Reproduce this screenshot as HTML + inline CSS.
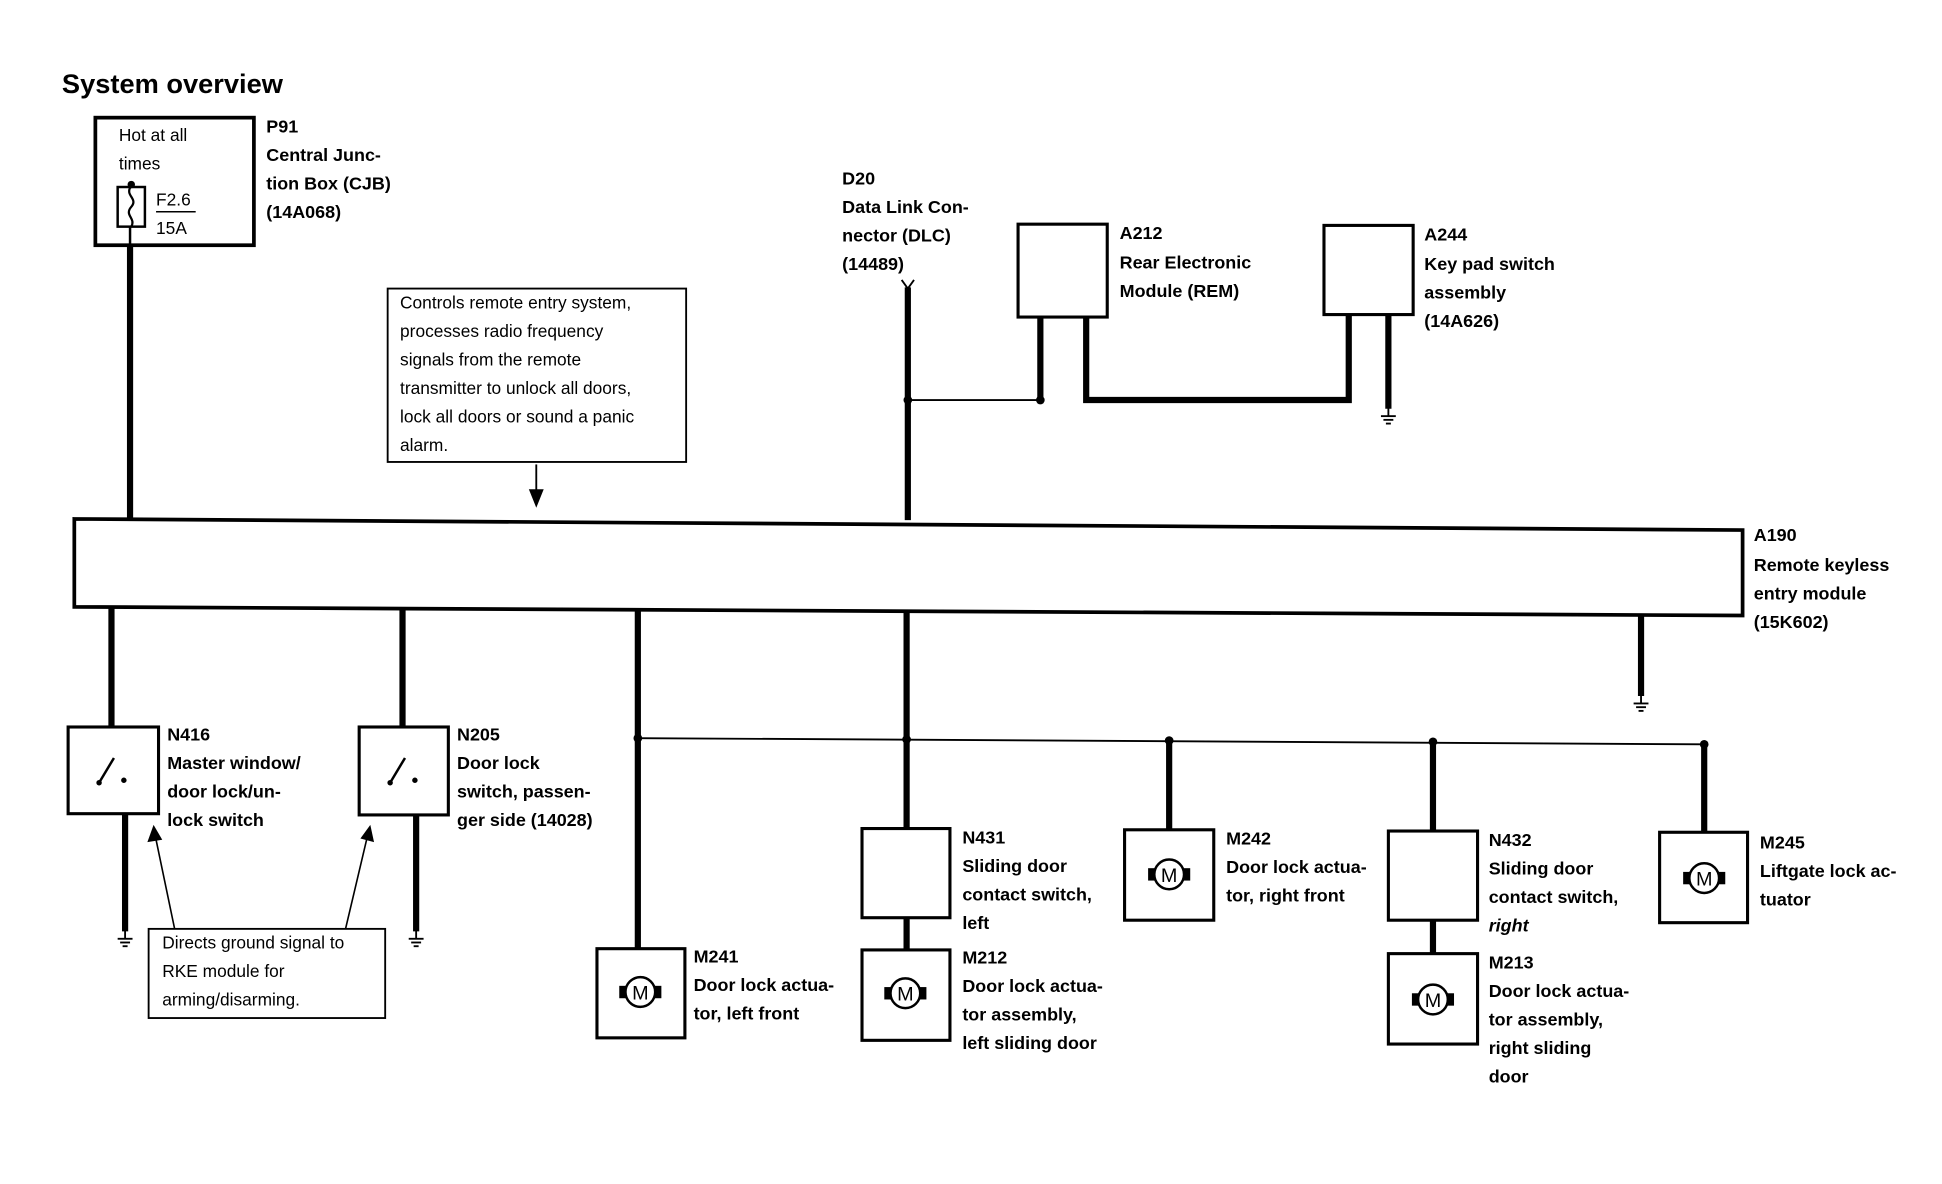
<!DOCTYPE html>
<html><head><meta charset="utf-8"><style>
html,body{margin:0;padding:0;background:#fff;}
svg{display:block;}
text{font-family:"Liberation Sans",Arial,sans-serif;fill:#000;}
.b{font-weight:bold;font-size:14.5px;}
.n{font-size:14px;}
</style></head><body>
<svg width="1942" height="1184" viewBox="0 0 1568 956" preserveAspectRatio="none" xmlns="http://www.w3.org/2000/svg">
<defs>
<g id="gnd"><line x1="0" y1="0" x2="0" y2="8" stroke="#000" stroke-width="1.5"/><line x1="-6" y1="8" x2="6" y2="8" stroke="#000" stroke-width="1.5"/><line x1="-4" y1="11" x2="4" y2="11" stroke="#000" stroke-width="1.5"/><line x1="-2" y1="14" x2="2" y2="14" stroke="#000" stroke-width="1.5"/></g>
<g id="mot"><rect x="-17" y="-5" width="6" height="10" fill="#000"/><rect x="11" y="-5" width="6" height="10" fill="#000"/><circle cx="0" cy="0" r="12" fill="#fff" stroke="#000" stroke-width="2"/><text x="0" y="6" text-anchor="middle" style="font-size:16px">M</text></g>
<g id="sw"><line x1="-10" y1="10" x2="2" y2="-10" stroke="#000" stroke-width="2"/><circle cx="-10" cy="10" r="2.2" fill="#000"/><circle cx="10" cy="8" r="2.2" fill="#000"/></g>
</defs>
<g fill="none" stroke="#000">
<rect x="77" y="95" width="128" height="103" stroke-width="3"/>
<rect x="95" y="151" width="22" height="32" stroke-width="2"/>
<path d="M106,150 C100,158 112,160 106,167 C100,174 110,176 106,183" stroke-width="1.8"/>
<line x1="126" y1="171" x2="158" y2="171" stroke-width="1.2"/>
<line x1="105" y1="183" x2="105" y2="198" stroke-width="2"/>
<line x1="105" y1="198" x2="105" y2="420" stroke-width="5"/>
<rect x="313" y="233" width="241" height="140" stroke-width="1.5"/>
<line x1="433" y1="375" x2="433" y2="400" stroke-width="1.5"/>
<line x1="733" y1="232" x2="733" y2="420" stroke-width="5"/>
<path d="M728,226 L733,233 L738,226" stroke-width="1.5"/>
<line x1="733" y1="323" x2="840" y2="323" stroke-width="1.5"/>
<rect x="822" y="181" width="72" height="75" stroke-width="2.5"/>
<rect x="1069" y="182" width="72" height="72" stroke-width="2.5"/>
<line x1="840" y1="256" x2="840" y2="323" stroke-width="5"/>
<path d="M877,256 L877,323 L1089,323 L1089,254" stroke-width="5"/>
<line x1="1121" y1="254" x2="1121" y2="330" stroke-width="5"/>
<polygon points="60,419 1407,428 1407,497 60,490" stroke-width="3"/>
<line x1="90" y1="491" x2="90" y2="587" stroke-width="5"/>
<line x1="325" y1="492" x2="325" y2="587" stroke-width="5"/>
<line x1="515" y1="492" x2="515" y2="766" stroke-width="5"/>
<line x1="732" y1="493" x2="732" y2="669" stroke-width="5"/>
<line x1="1325" y1="497" x2="1325" y2="562" stroke-width="5"/>
<line x1="515" y1="596" x2="1376" y2="601" stroke-width="1.5"/>
<line x1="944" y1="598" x2="944" y2="670" stroke-width="5"/>
<line x1="1157" y1="599" x2="1157" y2="671" stroke-width="5"/>
<line x1="1376" y1="601" x2="1376" y2="672" stroke-width="5"/>
<line x1="732" y1="741" x2="732" y2="767" stroke-width="5"/>
<line x1="1157" y1="743" x2="1157" y2="770" stroke-width="5"/>
<rect x="55" y="587" width="73" height="70" stroke-width="2.5"/>
<rect x="290" y="587" width="72" height="71" stroke-width="2.5"/>
<line x1="101" y1="657" x2="101" y2="752" stroke-width="5"/>
<line x1="336" y1="658" x2="336" y2="752" stroke-width="5"/>
<rect x="120" y="750" width="191" height="72" stroke-width="1.5"/>
<line x1="141" y1="750" x2="126" y2="678" stroke-width="1.3"/>
<line x1="279" y1="750" x2="296" y2="678" stroke-width="1.3"/>
<rect x="482" y="766" width="71" height="72" stroke-width="2.5"/>
<rect x="696" y="669" width="71" height="72" stroke-width="2.5"/>
<rect x="696" y="767" width="71" height="73" stroke-width="2.5"/>
<rect x="908" y="670" width="72" height="73" stroke-width="2.5"/>
<rect x="1121" y="671" width="72" height="72" stroke-width="2.5"/>
<rect x="1121" y="770" width="72" height="73" stroke-width="2.5"/>
<rect x="1340" y="672" width="71" height="73" stroke-width="2.5"/>
</g>
<polygon points="427,395 439,395 433,410" fill="#000"/>
<polygon points="119,680 131,678 124,666" fill="#000"/>
<polygon points="291,677 302,680 299,666" fill="#000"/>
<g fill="#000">
<circle cx="106" cy="149" r="3"/>
<circle cx="733" cy="323" r="3.5"/><circle cx="840" cy="323" r="3.5"/>
<circle cx="515" cy="596" r="3.5"/><circle cx="732" cy="597" r="3.5"/><circle cx="944" cy="598" r="3.5"/><circle cx="1157" cy="599" r="3.5"/><circle cx="1376" cy="601" r="3.5"/>
</g>
<use href="#gnd" x="1121" y="328"/>
<use href="#gnd" x="1325" y="560"/>
<use href="#gnd" x="101" y="750"/>
<use href="#gnd" x="336" y="750"/>
<use href="#sw" x="90" y="622"/>
<use href="#sw" x="325" y="622"/>
<use href="#mot" x="517" y="801"/>
<use href="#mot" x="731" y="802"/>
<use href="#mot" x="944" y="706"/>
<use href="#mot" x="1157" y="807"/>
<use href="#mot" x="1376" y="709"/>
<text x="50" y="75" style="font-weight:bold;font-size:22px">System overview</text>
<text class="n" x="96" y="114">Hot at all</text>
<text class="n" x="96" y="137">times</text>
<text class="n" x="126" y="166">F2.6</text>
<text class="n" x="126" y="189">15A</text>
<g class="b">
<text x="215" y="107">P91</text><text x="215" y="130">Central Junc-</text><text x="215" y="153">tion Box (CJB)</text><text x="215" y="176">(14A068)</text>
<text x="680" y="149">D20</text><text x="680" y="172">Data Link Con-</text><text x="680" y="195">nector (DLC)</text><text x="680" y="218">(14489)</text>
<text x="904" y="193">A212</text><text x="904" y="217">Rear Electronic</text><text x="904" y="240">Module (REM)</text>
<text x="1150" y="194">A244</text><text x="1150" y="218">Key pad switch</text><text x="1150" y="241">assembly</text><text x="1150" y="264">(14A626)</text>
<text x="1416" y="437">A190</text><text x="1416" y="461">Remote keyless</text><text x="1416" y="484">entry module</text><text x="1416" y="507">(15K602)</text>
<text x="135" y="598">N416</text><text x="135" y="621">Master window/</text><text x="135" y="644">door lock/un-</text><text x="135" y="667">lock switch</text>
<text x="369" y="598">N205</text><text x="369" y="621">Door lock</text><text x="369" y="644">switch, passen-</text><text x="369" y="667">ger side (14028)</text>
<text x="560" y="777">M241</text><text x="560" y="800">Door lock actua-</text><text x="560" y="823">tor, left front</text>
<text x="777" y="681">N431</text><text x="777" y="704">Sliding door</text><text x="777" y="727">contact switch,</text><text x="777" y="750">left</text>
<text x="777" y="778">M212</text><text x="777" y="801">Door lock actua-</text><text x="777" y="824">tor assembly,</text><text x="777" y="847">left sliding door</text>
<text x="990" y="682">M242</text><text x="990" y="705">Door lock actua-</text><text x="990" y="728">tor, right front</text>
<text x="1202" y="683">N432</text><text x="1202" y="706">Sliding door</text><text x="1202" y="729">contact switch,</text><text x="1202" y="752" font-style="italic">right</text>
<text x="1202" y="782">M213</text><text x="1202" y="805">Door lock actua-</text><text x="1202" y="828">tor assembly,</text><text x="1202" y="851">right sliding</text><text x="1202" y="874">door</text>
<text x="1421" y="685">M245</text><text x="1421" y="708">Liftgate lock ac-</text><text x="1421" y="731">tuator</text>
</g>
<g class="n">
<text x="323" y="249">Controls remote entry system,</text>
<text x="323" y="272">processes radio frequency</text>
<text x="323" y="295">signals from the remote</text>
<text x="323" y="318">transmitter to unlock  all doors,</text>
<text x="323" y="341">lock all doors or sound a panic</text>
<text x="323" y="364">alarm.</text>
<text x="131" y="766">Directs ground signal to</text>
<text x="131" y="789">RKE module for</text>
<text x="131" y="812">arming/disarming.</text>
</g>
</svg>
</body></html>
